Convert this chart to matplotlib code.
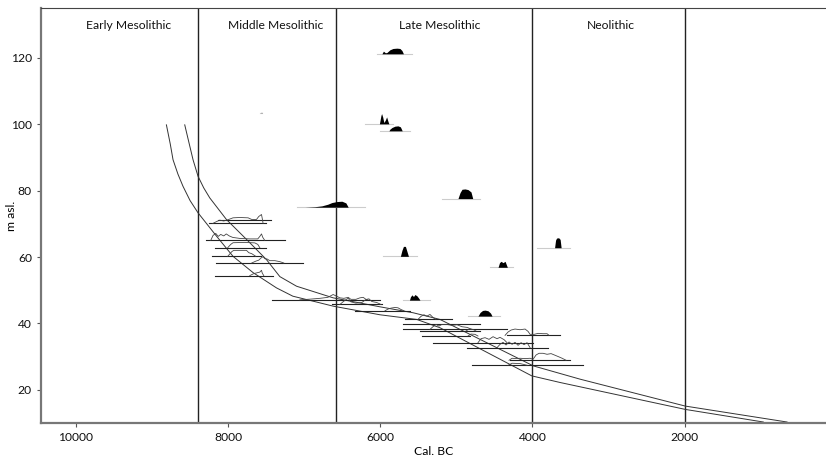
import matplotlib

matplotlib.use("Agg")

import matplotlib.pyplot as plt

plt.rcParams["font.family"] = ["Lato", "DejaVu Sans"]

# periods (cal. BC)
period_names = ["Early Mesolithic", "Middle Mesolithic", "Late Mesolithic", "Neolithic"]
period_label_x = [9305, 7370, 5215, 2965]
period_bounds = [8395, 6580, 4000, 2000]

# shoreline displacement curves
shore_a_year = [8811, 8760, 8724, 8660, 8593, 8500, 8395, 8153, 7935, 7672, 7364, 7149,
                6619, 6004, 5521, 5215, 4008, 3635, 1990, 964]
shore_a_masl = [99.8, 94.0, 89.3, 85.0, 81.3, 77.0, 73.3, 66.3, 60.2, 55.3, 50.7, 48.2,
                45.2, 42.6, 41.2, 38.7, 24.2, 22.2, 14.1, 10.3]
shore_b_year = [8570, 8510, 8461, 8395, 8320, 8241, 8022, 7758, 7495, 7320, 7100, 6619,
                6004, 5566, 5215, 3987, 3372, 1990, 652]
shore_b_masl = [99.8, 94.0, 89.3, 84.3, 80.8, 77.8, 71.3, 65.3, 59.2, 54.1, 51.2, 47.7,
                45.0, 43.2, 41.2, 27.2, 23.2, 15.1, 10.3]

# sites above the shoreline - filled probability distributions
solid_masl = [121.2, 100.1, 98.0, 75.0, 60.2, 47.0, 42.2, 77.6, 56.9, 62.8, 103.4]
solid_span = [(6048, 5587), (6202, 5833), (6004, 5609), (7100, 6202), (5961, 5521),
              (5702, 5346), (4846, 4425), (5192, 4688), (4557, 4250), (3942, 3504),
              (7575, 7548)]
solid_years = [
    [5978, 5958, 5932, 5912, 5873, 5833, 5781, 5741, 5715, 5695],
    [6011, 5991, 5982, 5967, 5952, 5932, 5916, 5899, 5886],
    [5886, 5873, 5846, 5807, 5767, 5735, 5711],
    [6991, 6860, 6768, 6689, 6636, 6570, 6504, 6452, 6421],
    [5735, 5715, 5695, 5669, 5649, 5629],
    [5616, 5603, 5583, 5563, 5544, 5517, 5491, 5478],
    [4715, 4688, 4655, 4622, 4583, 4550, 4530],
    [4978, 4951, 4925, 4886, 4846, 4807, 4784],
    [4451, 4432, 4412, 4386, 4359, 4329],
    [3708, 3695, 3682, 3655, 3635, 3622],
    [7566, 7561, 7556],
]
solid_prob = [
    [0, 0.8, 0.3, 0.4, 1.2, 1.6, 1.7, 1.6, 1.0, 0],
    [0, 2.5, 3.1, 2.0, 0.4, 1.2, 2.1, 0.8, 0],
    [0, 0.5, 1.0, 1.4, 1.5, 1.2, 0],
    [0, 0.15, 0.4, 0.9, 1.4, 1.7, 1.8, 1.3, 0],
    [0, 1.8, 3.0, 3.0, 1.5, 0],
    [0, 1.0, 1.6, 1.1, 1.7, 1.3, 0.5, 0],
    [0, 1.1, 1.7, 1.8, 1.6, 0.9, 0],
    [0, 1.8, 2.8, 2.9, 2.7, 2.0, 0],
    [0, 1.4, 1.8, 1.4, 1.8, 0],
    [0, 2.3, 2.9, 3.0, 2.5, 0],
    [0, 0.3, 0],
]

# shore-bound sites - outlined distributions with date ranges
open_masl = [71.0, 70.1, 65.0, 62.8, 60.2, 58.2, 54.4, 47.1, 45.7, 43.8,
             41.2, 39.8, 38.2, 37.7, 36.4, 36.2, 34.2, 32.7, 28.9, 27.4]
open_span = [(8132, 7430), (8251, 7508), (8285, 7254), (8176, 7508), (8211, 7561),
             (8153, 7014), (8176, 7416), (7422, 6004), (6640, 5982), (6333, 5609),
             (5676, 5061), (5702, 4688), (5698, 4337), (5478, 4688), (4337, 3635),
             (5456, 4820), (5303, 3987), (4863, 3789), (4293, 3504), (4797, 3329)]
open_years = [
    [],
    [8202, 8149, 8110, 8057, 8005, 7935, 7847, 7737, 7689, 7627, 7597, 7561, 7551, 7540],
    [8228, 8198, 8162, 8130, 8097, 8057, 8024, 7985, 7939, 7847, 7715, 7610, 7583,
     7561, 7544, 7518],
    [8005, 7965, 7935, 7781, 7649, 7610, 7583],
    [8005, 7952, 7926, 7758, 7728, 7689, 7636],
    [7689, 7636, 7597, 7570, 7540, 7518, 7487, 7452, 7386, 7320, 7268],
    [7715, 7662, 7610, 7583, 7561, 7551, 7531],
    [7057, 6925, 6794, 6689, 6619, 6583, 6531, 6478, 6421, 6386, 6320, 6267, 6224,
     6188, 6162],
    [6531, 6478, 6421, 6386, 6320, 6241, 6188, 6149, 6110, 6048, 6017, 5991],
    [5938, 5899, 5860, 5807, 5767, 5728, 5688],
    [5504, 5465, 5425, 5386, 5346, 5307, 5267],
    [],
    [5346, 5307, 5267, 5228, 5188, 5127, 5057, 4991, 4925, 4859, 4794],
    [4873, 4833, 4781, 4741],
    [4359, 4320, 4280, 4228, 4162, 4096, 4057, 4030, 3978, 3925, 3859, 3807, 3781],
    [4846, 4807, 4754, 4715],
    [4715, 4675, 4622, 4570, 4517, 4465, 4425, 4372, 4333],
    [4465, 4425, 4386, 4346, 4307, 4267, 4228, 4188, 4149, 4109, 4070, 4030],
    [4307, 4267, 4215, 4162, 4096, 4030, 3991, 3951, 3912, 3859, 3807, 3754, 3701,
     3649, 3609, 3557],
    [4320, 4267, 4162, 4070],
]
open_prob = [
    [],
    [0, 0.6, 1.0, 0.75, 1.1, 1.7, 1.8, 1.7, 1.2, 1.2, 2.1, 2.7, 1.5, 0],
    [0, 1.5, 2.1, 1.2, 1.8, 1.35, 1.95, 1.35, 0.9, 0.6, 0.45, 0.45, 1.2, 1.95, 0.9, 0],
    [0, 1.0, 1.5, 1.6, 1.45, 1.0, 0],
    [0, 1.4, 1.8, 1.8, 1.1, 0.8, 0],
    [0, 0.55, 0.85, 1.45, 1.9, 1.3, 1.2, 0.7, 0.7, 0.4, 0],
    [0, 0.6, 0.9, 1.05, 1.6, 0.75, 0],
    [0, 0.2, 0.45, 0.75, 1.6, 1.2, 0.6, 0.45, 0.75, 0.15, 0.15, 0.6, 0.75, 0.15, 0],
    [0, 1.0, 1.9, 0.8, 0.4, 0.6, 1.5, 1.7, 0.9, 0.6, 0.3, 0],
    [0, 0.5, 0.8, 1.0, 0.9, 0.4, 0],
    [0, 0.9, 1.4, 1.0, 1.5, 0.6, 0],
    [],
    [0, 0.8, 1.5, 1.0, 1.5, 1.5, 1.2, 1.4, 0.8, 0.6, 0],
    [0, 0.6, 0.5, 0],
    [0, 1.0, 1.6, 1.9, 1.7, 1.9, 1.2, 0.3, 0.3, 0.6, 0.5, 0.5, 0],
    [0, 0.6, 0.5, 0],
    [0, 1.2, 1.5, 1.0, 1.8, 1.2, 1.6, 0.9, 0],
    [0, 1.0, 1.6, 0.8, 1.7, 1.0, 1.6, 0.7, 1.5, 0.9, 1.5, 0],
    [0, 0.6, 0.5, 0.6, 0.5, 0.6, 0.3, 1.6, 2.1, 2.1, 1.8, 2.0, 1.5, 1.0, 0.6, 0],
    [0, 0.6, 0.5, 0],
]

fig = plt.figure(figsize=(8.26, 4.59), dpi=100)
ax = fig.add_axes([0.0496, 0.0784, 0.9504, 0.9042])

for x in period_bounds:
    ax.axvline(x, color="#222222", lw=1.0, zorder=1)

for name, x in zip(period_names, period_label_x):
    ax.text(x, 129.6, name, ha="center", va="center", fontsize=8.7, color="#111111")

ax.plot(shore_a_year, shore_a_masl, color="#333333", lw=0.7, zorder=2)
ax.plot(shore_b_year, shore_b_masl, color="#333333", lw=0.7, zorder=2)

for y, (x0, x1), yrs, p in zip(solid_masl, solid_span, solid_years, solid_prob):
    ax.plot([x0, x1], [y, y], color="#cccccc", lw=0.8, zorder=2)
    ax.fill_between(yrs, y, [y + v for v in p], color="black", lw=0, zorder=3)

for y, (x0, x1), yrs, p in zip(open_masl, open_span, open_years, open_prob):
    ax.plot([x0, x1], [y, y], color="#222222", lw=0.8, zorder=2)
    if yrs:
        ax.plot(yrs, [y + v for v in p], color="#444444", lw=0.6, zorder=3)

ax.set_xlim(10460, 140)
ax.set_ylim(10, 135)
ax.set_xticks([10000, 8000, 6000, 4000, 2000])
ax.set_yticks([20, 40, 60, 80, 100, 120])
ax.tick_params(labelsize=8.7, length=3, width=0.8, colors="#555555", labelcolor="#111111")
ax.set_xlabel("Cal. BC", fontsize=8.7)
ax.set_ylabel("m asl.", fontsize=8.7)
ax.xaxis.set_label_coords(0.5, -0.055)
ax.yaxis.set_label_coords(-0.031, 0.5)

ax.spines["left"].set_color("#777777")
ax.spines["left"].set_linewidth(1.6)
ax.spines["bottom"].set_color("#777777")
ax.spines["bottom"].set_linewidth(1.6)
ax.spines["top"].set_color("#444444")
ax.spines["top"].set_linewidth(0.8)
ax.spines["right"].set_visible(False)

fig.savefig("out.png", dpi=100)
